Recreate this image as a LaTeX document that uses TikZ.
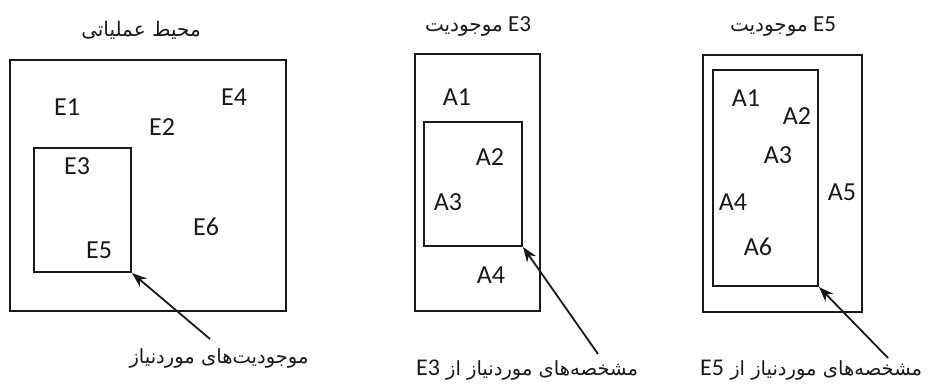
\documentclass[tikz,border=0pt]{standalone}
\usepackage{fontspec}
\setmainfont{Carlito}
\newfontfamily\arabicfont[Script=Arabic]{DejaVu Sans}
\TeXXeTstate=1
\usetikzlibrary{arrows.meta}
\newcommand\faTitle[1]{{\arabicfont\fontsize{20}{24}\selectfont #1}}
\newcommand\faCap[1]{{\arabicfont\fontsize{19.5}{24}\selectfont #1}}
\begin{document}
\begin{tikzpicture}[x=1pt,y=-1pt,
  box/.style={draw=black!90,line width=2pt,inner sep=0pt,fill=none},
  lbl/.style={font=\fontsize{26}{30}\selectfont,inner sep=0pt,text=black!90},
  ttl/.style={font=\fontsize{23}{26}\selectfont,inner sep=0pt,text=black!90},
  captxt/.style={font=\fontsize{24}{26}\selectfont,inner sep=0pt,text=black!90},
  pointer/.style={draw=black!90,line width=1.8pt,-{Stealth[length=15pt,width=11pt]}}]
\useasboundingbox (0,0) rectangle (931,388);
\fill[white] (0,0) rectangle (931,388);
% panel 1
\node[box,minimum width=276pt,minimum height=251pt] (outer1) at (148,185.5) {};
\node[box,minimum width=97pt,minimum height=124pt] (inner1) at (82.5,210) {};
\node[ttl] (t1) at (141,30) {\faTitle{\beginR محیط عملیاتی\endR}};
\node[lbl] (e1) at (67,107) {E1};
\node[lbl] (e4) at (234,97) {E4};
\node[lbl] (e2) at (162,127) {E2};
\node[lbl] (e3) at (77,166) {E3};
\node[lbl] (e6) at (206,227) {E6};
\node[lbl] (e5) at (99,250) {E5};
\node[captxt] (c1) at (219,358) {\faCap{\beginR موجودیت‌های موردنیاز\endR}};
\coordinate (a1) at (210,339);
\draw[pointer] (a1) -- (inner1.south east);
% panel 2
\node[box,minimum width=125pt,minimum height=257pt] (outer2) at (477.5,182.5) {};
\node[box,minimum width=98pt,minimum height=124pt] (inner2) at (473,184) {};
\node[ttl] (t2) at (478,26) {\faTitle{\beginR موجودیت\endR}\ E3};
\node[lbl] (p2a1) at (457,97) {A1};
\node[lbl] (p2a2) at (490,157) {A2};
\node[lbl] (p2a3) at (448,202) {A3};
\node[lbl] (p2a4) at (491,275) {A4};
\node[captxt] (c2) at (527,370) {\beginR\faCap{مشخصه‌های موردنیاز از }\beginL E3\endL\endR};
\coordinate (a2) at (598,354);
\draw[pointer] (a2) -- (inner2.south east);
% panel 3
\node[box,minimum width=159pt,minimum height=257pt] (outer3) at (782.5,183.5) {};
\node[box,minimum width=105pt,minimum height=216pt] (inner3) at (765.5,178) {};
\node[ttl] (t3) at (783,27) {\faTitle{\beginR موجودیت\endR}\ E5};
\node[lbl] (p3a1) at (746,98) {A1};
\node[lbl] (p3a2) at (797,116) {A2};
\node[lbl] (p3a3) at (778,155) {A3};
\node[lbl] (p3a4) at (733,202) {A4};
\node[lbl] (p3a5) at (842,192) {A5};
\node[lbl] (p3a6) at (758,247) {A6};
\node[captxt,anchor=west] (c3) at (700,370) {\beginR\faCap{مشخصه‌های موردنیاز از }\beginL E5\endL\endR};
\coordinate (a3) at (888,358);
\draw[pointer] (a3) -- (inner3.south east);
\end{tikzpicture}
\end{document}
